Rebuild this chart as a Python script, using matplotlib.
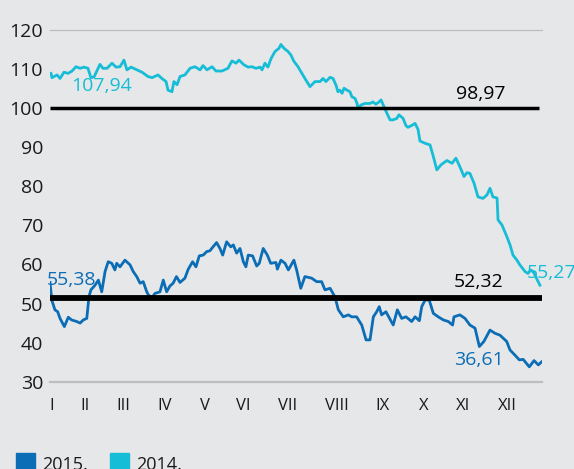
import numpy as np
import matplotlib
matplotlib.use('Agg')
import matplotlib.pyplot as plt
from matplotlib.patches import Rectangle

plt.rcParams['font.family'] = ['Open Sans', 'DejaVu Sans']

# trading-day index (0..250) and price
days_2014 = [0.5, 1, 3.6, 5.1, 7.1, 9.2, 11.2, 13.2, 15.3, 17.3, 19.3, 20.8, 22.4, 25.4, 26.9,
             29, 31.5, 33.6, 35.6, 37.6, 39.1, 41.2, 44.2, 46.8, 49.8, 51.9, 54.9, 56.9, 59,
             60, 62, 63, 64.6, 66.1, 68.6, 71.2, 73.7, 76.3, 77.8, 79.8, 82.4, 84.4, 87.4,
             90.5, 92.5, 94.6, 96.1, 98.6, 100.7, 102.7, 104.7, 106.8, 107.8, 109.3, 110.8,
             112.4, 114.4, 116.4, 117.4, 119, 121, 122.5, 124, 126.1, 128.1, 129.6, 132.2,
             134.7, 137.3, 138.8, 140.3, 142.4, 143.9, 145.4, 146.4, 147.4, 148.5, 149.5,
             151, 152.5, 153.5, 155.1, 156.1, 156.6, 158.1, 160.1, 162.7, 164.2, 165.7,
             167.3, 168.3, 169.8, 171.3, 172.9, 174.4, 176.4, 177.4, 179.5, 181, 182, 184,
             185.6, 187.1, 188.1, 190.7, 193.2, 194.7, 196.7, 198.8, 201.8, 204.4, 206.4,
             208.4, 210.5, 212, 213.5, 215.6, 217.6, 220.1, 222.2, 223.7, 225.2, 227.3,
             227.8, 229.8, 232.3, 233.9, 235.4, 237.4, 238.9, 241.5, 243, 244.5, 246,
             247.6, 249.1]
price_2014 = [108.9, 107.8, 108.5, 107.6, 109.2, 108.9, 109.5, 110.6, 110.2, 110.5, 110.2,
              107.8, 108.0, 111.2, 110.2, 110.2, 111.5, 110.5, 110.6, 112.3, 109.8, 110.5,
              109.8, 109.2, 108.1, 107.8, 108.5, 107.6, 106.8, 104.6, 104.2, 106.8, 106.0,
              108.1, 108.5, 110.2, 110.6, 109.8, 110.9, 109.8, 110.6, 109.5, 109.5, 110.2,
              112.1, 111.5, 112.3, 111.1, 110.5, 110.6, 110.2, 110.5, 109.8, 111.5, 110.5,
              112.7, 114.5, 115.3, 116.3, 115.3, 114.5, 113.6, 112.0, 110.6, 108.9, 107.6,
              105.5, 106.8, 106.8, 107.6, 106.8, 107.9, 107.6, 105.9, 104.2, 104.6, 103.8,
              105.1, 104.6, 104.2, 102.9, 102.5, 101.2, 100.0, 100.8, 101.2, 101.2, 101.6,
              101.0, 101.6, 102.1, 100.4, 98.7, 97.0, 97.0, 97.4, 98.3, 97.4, 95.5, 95.1,
              95.6, 96.1, 94.6, 91.6, 91.0, 90.6, 88.0, 84.2, 85.5, 86.6, 85.9, 87.2, 85.0,
              82.5, 83.5, 83.3, 80.8, 77.3, 76.9, 77.8, 79.5, 77.3, 77.0, 71.4, 70.1, 67.1,
              65.0, 62.4, 61.1, 59.9, 58.2, 57.7, 58.6, 57.9, 56.2, 54.7]

days_2015 = [0, 0.9, 2.5, 3.9, 5.1, 7.3, 9.3, 11, 13.6, 15.3, 16.9, 18.7, 19.8, 20.8, 22.9,
             24.6, 26.3, 28, 29.6, 31.4, 33, 33.9, 35.6, 38.1, 40.7, 42.3, 44.1, 45.8, 47.4,
             49.2, 50, 51.8, 53.4, 55.9, 57.6, 59.3, 61, 62.6, 64.3, 66.1, 68.6, 70.3, 72.5,
             74.2, 75.9, 77.9, 79.7, 81.3, 82.7, 84.7, 86.4, 87.8, 89.8, 91.9, 93.2, 94.9,
             96.6, 98.3, 99.6, 100.8, 103, 105.1, 106.4, 108.4, 110.5, 112.2, 114.9, 115.6,
             117.4, 119.5, 121.2, 124, 125.4, 127.5, 129.6, 133, 135.6, 138.1, 139.8, 142.4,
             144.9, 146.6, 149.1, 151.7, 153.4, 155.9, 158.5, 160.7, 162.7, 164.4, 166.1,
             167.4, 168.6, 170.8, 174.5, 176.6, 178.8, 181, 183.9, 185.6, 187.8, 189, 190.7,
             192.8, 194.9, 197.4, 200, 202.5, 204.7, 205.4, 208.4, 211, 213.5, 216.1, 218.3,
             220.6, 223.7, 226.2, 228.8, 232.2, 233.9, 236.4, 238.6, 240.6, 243.7, 246.1,
             248.3, 250]
price_2015 = [55.4, 50.9, 48.4, 47.9, 46.2, 44.1, 46.5, 45.8, 45.4, 45.0, 45.8, 46.2, 51.7,
              53.5, 54.7, 56.0, 53.0, 58.2, 60.7, 60.3, 58.6, 60.3, 59.4, 61.1, 59.9, 58.2,
              56.9, 55.2, 55.6, 53.0, 52.2, 51.5, 52.6, 53.0, 56.0, 53.0, 54.5, 55.2, 56.9,
              55.4, 56.5, 58.8, 60.7, 59.4, 62.2, 62.4, 63.3, 63.5, 64.4, 65.6, 64.1, 62.4,
              65.8, 64.5, 65.0, 62.9, 64.1, 60.7, 59.4, 62.4, 62.2, 59.6, 60.3, 64.1, 62.4,
              60.3, 60.5, 58.8, 61.1, 60.3, 58.6, 61.1, 58.6, 53.9, 56.9, 56.5, 55.6, 55.6,
              53.5, 53.9, 51.7, 48.4, 46.6, 47.1, 46.6, 46.6, 44.5, 40.7, 40.7, 46.6, 47.9,
              49.2, 47.1, 47.9, 44.5, 48.4, 46.2, 46.6, 45.4, 46.6, 45.6, 49.2, 50.9, 50.9,
              47.5, 46.6, 45.8, 45.4, 44.5, 46.6, 47.1, 46.2, 44.5, 43.7, 39.0, 40.3, 43.2,
              42.4, 41.9, 40.3, 38.1, 36.8, 35.6, 35.7, 33.8, 35.4, 34.3, 35.1]

month_pos = [1, 18, 37.5, 58.3, 78.8, 98.3, 121, 145.8, 169.3, 189.9, 210, 232.4]
month_labels = ['I', 'II', 'III', 'IV', 'V', 'VI', 'VII', 'VIII', 'IX', 'X', 'XI', 'XII']
yticks = [30, 40, 50, 60, 70, 80, 90, 100, 110, 120]

avg_2014 = 100.0
avg_2015 = 51.5

blue = '#0b6db5'
cyan = '#16bdd6'
bg = '#e6e7e9'

fig = plt.figure(figsize=(5.74, 4.69), dpi=100, facecolor=bg)
ax = fig.add_axes([50 / 574, 1 - 381.7 / 469, 491.7 / 574, 351.7 / 469])
ax.set_facecolor(bg)
for s in ax.spines.values():
    s.set_visible(False)

ax.axhline(120, color='#bdbdbd', lw=0.9, clip_on=False)
ax.axhline(30, color='#bdbdbd', lw=1.6, clip_on=False)

ax.plot(days_2014, price_2014, color=cyan, lw=2.0, solid_joinstyle='round')
ax.plot(days_2015, price_2015, color=blue, lw=2.0, solid_joinstyle='round')

ax.plot([0, 248.5], [avg_2014, avg_2014], color='black', lw=2.5, solid_capstyle='butt')
ax.plot([0, 250], [avg_2015, avg_2015], color='black', lw=4.2, solid_capstyle='butt')

ax.set_xlim(0, 250)
ax.set_ylim(30, 120)

ax.set_yticks(yticks)
ax.set_yticklabels([str(v) for v in yticks], fontsize=14, color='#1a1a1a')
ax.set_xticks(month_pos)
ax.set_xticklabels(month_labels, fontsize=12, color='#1a1a1a')
ax.tick_params(axis='y', length=0, pad=5)
ax.tick_params(axis='x', length=0, pad=12)

ax.text(26, 105.6, '107,94', color=cyan, fontsize=14, ha='center', va='center')
ax.text(219, 103.6, '98,97', color='black', fontsize=14, ha='center', va='center')
ax.text(11, 56.0, '55,38', color=blue, fontsize=14, ha='center', va='center')
ax.text(218, 55.6, '52,32', color='black', fontsize=14, ha='center', va='center')
ax.text(218, 35.5, '36,61', color=blue, fontsize=14, ha='center', va='center')
ax.text(255, 57.7, '55,27', color=cyan, fontsize=14, ha='center', va='center', clip_on=False)

# legend at the bottom (partly cut off like the original)
for x0, col, lab in [(16, blue, '2015.'), (110, cyan, '2014.')]:
    fig.patches.append(Rectangle((x0 / 574, 1 - 472 / 469), 19 / 574, 19 / 469,
                                 transform=fig.transFigure, color=col))
    fig.text((x0 + 26) / 574, 1 - 469.5 / 469, lab, fontsize=13, color='#1a1a1a',
             va='baseline', ha='left')

fig.savefig('out.png', dpi=100, facecolor=bg)
